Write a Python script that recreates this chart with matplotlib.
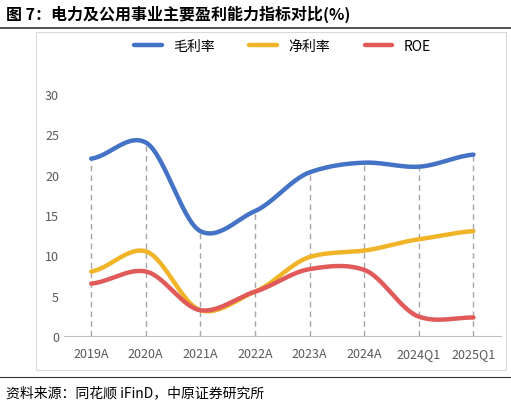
import matplotlib
matplotlib.use("Agg")
import matplotlib.pyplot as plt
import numpy as np
from matplotlib.patches import Rectangle
from matplotlib.lines import Line2D

plt.rcParams['font.family'] = ['Noto Sans CJK SC', 'DejaVu Sans']

categories = ["2019A","2020A","2021A","2022A","2023A","2024A","2024Q1","2025Q1"]
gross = [22.0, 24.0, 13.0, 15.5, 20.3, 21.5, 21.0, 22.5]
net = [8.0, 10.5, 3.2, 5.5, 9.8, 10.6, 12.0, 13.0]
roe = [6.5, 8.0, 3.2, 5.5, 8.3, 8.2, 2.4, 2.3]
names = ["毛利率", "净利率", "ROE"]
colors = ["#4472C4", "#F0B429", "#E05A5A"]

def smooth(y, n=30):
    y = np.asarray(y, float)
    x = np.arange(len(y))
    p = np.concatenate([[y[0]], y, [y[-1]]])
    xs, ys = [], []
    for i in range(len(y)-1):
        p0, p1, p2, p3 = p[i], p[i+1], p[i+2], p[i+3]
        t = np.linspace(0, 1, n, endpoint=False)
        m1 = (p2 - p0) / 2 * 0.8
        m2 = (p3 - p1) / 2 * 0.8
        h00 = 2*t**3-3*t**2+1; h10 = t**3-2*t**2+t; h01 = -2*t**3+3*t**2; h11 = t**3-t**2
        ys.append(h00*p1+h10*m1+h01*p2+h11*m2)
        xs.append(x[i]+t)
    xs.append([x[-1]]); ys.append([y[-1]])
    return np.concatenate(xs), np.concatenate(ys)

fig = plt.figure(figsize=(5.11, 4.10), dpi=100)
fig.text(0.012, 0.965, "图 7：电力及公用事业主要盈利能力指标对比(%)", fontsize=11.5, fontweight='bold', va='center', ha='left')
fig.add_artist(Line2D([0.0, 1.0], [0.93, 0.93], color='#333333', lw=1.2))
fig.add_artist(Rectangle((0.07, 0.095), 0.92, 0.825, fill=False, ec='#D9D9D9', lw=0.8))
fig.add_artist(Line2D([0.0, 1.0], [0.078, 0.078], color='#333333', lw=0.8))
fig.text(0.012, 0.04, "资料来源：同花顺 iFinD，中原证券研究所", fontsize=10, va='center', ha='left')

ax = fig.add_axes([0.125, 0.178, 0.855, 0.59])
x = np.arange(len(categories))
for xi, g in zip(x, gross):
    ax.plot([xi, xi], [0, g], ls=(0, (4, 3)), color='#A6A6A6', lw=1, zorder=1)
for data, c, nm in zip([gross, net, roe], colors, names):
    sx, sy = smooth(data)
    ax.plot(sx, sy, color=c, lw=3.2, label=nm, zorder=3, solid_capstyle='round')
ax.set_ylim(0, 30)
ax.set_xlim(-0.5, len(categories)-0.5)
ax.set_yticks([0,5,10,15,20,25,30])
ax.set_xticks(x)
ax.set_xticklabels(categories)
ax.tick_params(axis='both', length=0, labelsize=9, colors='#595959')
ax.tick_params(axis='x', pad=8)
for s in ['top','right','left']:
    ax.spines[s].set_visible(False)
ax.spines['bottom'].set_color('#BFBFBF')
ax.legend(loc='center', bbox_to_anchor=(0.5, 1.2), ncol=3, frameon=False, fontsize=10,
          handlelength=2.0, columnspacing=2.5)
fig.savefig("out.png", dpi=100)
